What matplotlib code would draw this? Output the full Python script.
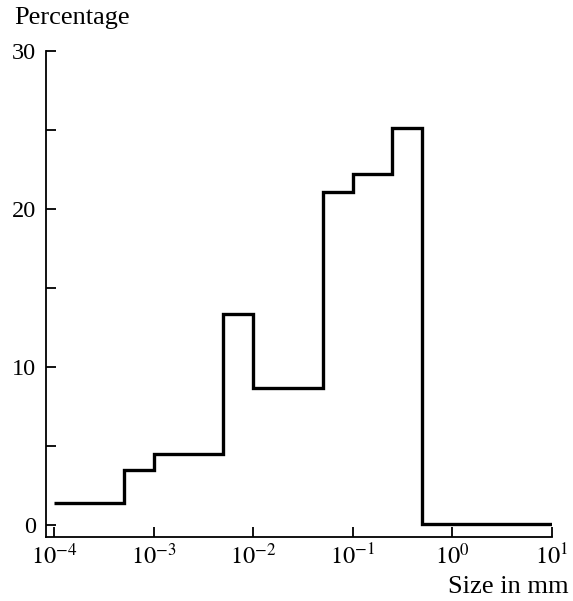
import numpy as np
import matplotlib
matplotlib.use("Agg")
import matplotlib.pyplot as plt

# Particle size distribution (step histogram on log size axis)
bin_edges = [1e-4, 5e-4, 1e-3, 5e-3, 1e-2, 5e-2, 1e-1, 0.25, 0.5, 10]
percentage = [1.4, 3.5, 4.5, 13.35, 8.7, 21.1, 22.2, 25.1, 0.05]

x_ticks = [1e-4, 1e-3, 1e-2, 1e-1, 1e0, 1e1]
x_tick_labels = [r"$10^{-4}$", r"$10^{-3}$", r"$10^{-2}$", r"$10^{-1}$", r"$10^{0}$", r"$10^{1}$"]
y_ticks = [0, 5, 10, 15, 20, 25, 30]
y_tick_labels = ["0", "", "10", "", "20", "", "30"]

plt.rcParams["font.family"] = "Liberation Serif"
plt.rcParams["mathtext.fontset"] = "stix"

fig = plt.figure(figsize=(5.73, 6.01), dpi=100)
ax = fig.add_axes([46 / 573, 64 / 601, 506 / 573, 486 / 601])

ax.stairs(percentage, bin_edges, baseline=None, color="black", linewidth=2.4)

ax.set_xscale("log")
ax.set_xlim(10 ** -4.08, 10)
ax.set_ylim(-0.76, 30)

ax.set_xticks(x_ticks)
ax.set_xticklabels(x_tick_labels)
ax.xaxis.set_minor_locator(matplotlib.ticker.NullLocator())
ax.set_yticks(y_ticks)
ax.set_yticklabels(y_tick_labels)

ax.tick_params(direction="in", length=7.5, width=1.3, labelsize=17.5, pad=5)
ax.tick_params(axis="y", pad=7)

for side in ["top", "right"]:
    ax.spines[side].set_visible(False)
for side in ["left", "bottom"]:
    ax.spines[side].set_linewidth(1.3)

fig.text(14 / 573, 1 - 7 / 601, "Percentage", fontsize=19, ha="left", va="top")
fig.text(569 / 573, 1 - 598 / 601, "Size in mm", fontsize=19, ha="right", va="bottom")

fig.savefig("out.png", dpi=100)
